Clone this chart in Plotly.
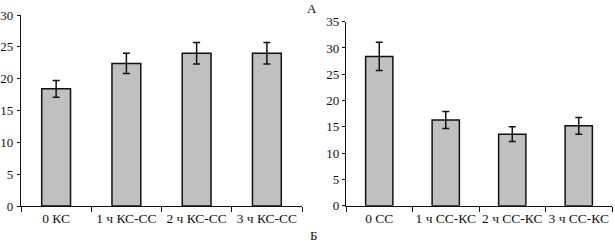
import plotly.graph_objects as go

cats_a = ["0 КС", "1 ч КС-СС", "2 ч КС-СС", "3 ч КС-СС"]
vals_a = [18.4, 22.4, 24.0, 24.0]
err_a = [1.3, 1.6, 1.7, 1.7]

cats_b = ["0 СС", "1 ч СС-КС", "2 ч СС-КС", "3 ч СС-КС"]
vals_b = [28.4, 16.3, 13.6, 15.2]
err_b = [2.7, 1.6, 1.4, 1.6]

W, H = 615, 244
fam = "Liberation Serif, Times New Roman, serif"
font = dict(family=fam, size=13.5, color="#111")
yfont = dict(family=fam, size=13, color="#111")

fig = go.Figure()
bar_style = dict(marker=dict(color="#c0c0c0", line=dict(color="#111", width=1.5)), showlegend=False)
err_style = dict(type="data", thickness=1.5, width=3.5, color="#111")

fig.add_trace(go.Bar(x=cats_a, y=vals_a, error_y=dict(array=err_a, **err_style),
                     xaxis="x", yaxis="y", **bar_style))
fig.add_trace(go.Bar(x=cats_b, y=vals_b, error_y=dict(array=err_b, **err_style),
                     xaxis="x2", yaxis="y2", **bar_style))

def px_x(p):
    return p / W

def px_y(p):
    return (H - p) / H

axis_common = dict(showline=True, linecolor="#111", linewidth=1.2, showgrid=False,
                   zeroline=False, ticks="outside", tickcolor="#111",
                   automargin=False)

fig.update_layout(
    width=W, height=H,
    margin=dict(l=0, r=0, t=0, b=0),
    plot_bgcolor="white", paper_bgcolor="white",
    bargap=0.59,
    font=font,
    xaxis=dict(domain=[px_x(21), px_x(302)], anchor="y", tickson="boundaries",
               ticklen=5, tickwidth=1.2, tickangle=0, tickfont=font, **axis_common),
    yaxis=dict(domain=[px_y(206), px_y(15)], anchor="x", range=[0, 30], dtick=5,
               ticklen=3, tickwidth=1.2, ticklabelstandoff=1, tickfont=yfont, **axis_common),
    xaxis2=dict(domain=[px_x(346), px_x(612)], anchor="y2", tickson="boundaries",
                ticklen=5, tickwidth=1.2, tickangle=0, tickfont=font, **axis_common),
    yaxis2=dict(domain=[px_y(205.7), px_y(21.7)], anchor="x2", range=[0, 35], dtick=5,
                ticklen=3, tickwidth=1.2, tickfont=yfont, **axis_common),
    annotations=[
        dict(text="А", x=px_x(312), y=px_y(9), xref="paper", yref="paper",
             xanchor="center", yanchor="middle", showarrow=False,
             font=dict(family=fam, size=13, color="#111")),
        dict(text="Б", x=px_x(313), y=px_y(235), xref="paper", yref="paper",
             xanchor="center", yanchor="middle", showarrow=False,
             font=dict(family=fam, size=13, color="#111")),
    ],
)

fig.write_html("out.html", config={"displayModeBar": False},
               post_script="document.body.style.margin='0';")
